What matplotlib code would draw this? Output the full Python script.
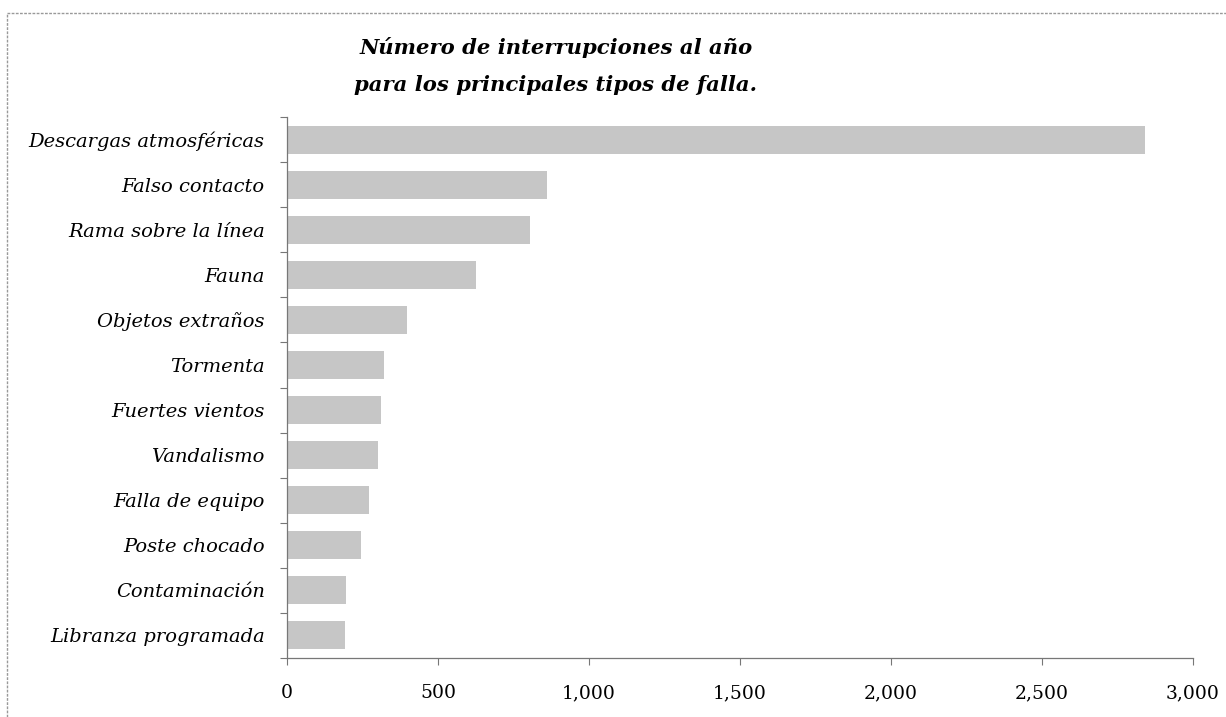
import matplotlib.pyplot as plt
from matplotlib.lines import Line2D
from matplotlib.ticker import FuncFormatter, FixedLocator

# Interrupciones por año según tipo de falla
tipos = [
    "Descargas atmosféricas",
    "Falso contacto",
    "Rama sobre la línea",
    "Fauna",
    "Objetos extraños",
    "Tormenta",
    "Fuertes vientos",
    "Vandalismo",
    "Falla de equipo",
    "Poste chocado",
    "Contaminación",
    "Libranza programada",
]
interrupciones = [2840, 862, 806, 625, 396, 321, 310, 301, 272, 245, 195, 192]
xticks = [0, 500, 1000, 1500, 2000, 2500, 3000]

plt.rcParams["font.family"] = ["DejaVu Serif"]

fig = plt.figure(figsize=(12.26, 7.17), dpi=100)
ax = fig.add_axes([0.2341, 0.0823, 0.739, 0.7545])

pos = list(range(len(tipos)))
ax.barh(pos, interrupciones, height=0.62, color="#c6c6c6", edgecolor="none")

ax.set_xlim(0, 3000)
ax.set_ylim(len(tipos) - 0.5, -0.5)

ax.set_yticks(pos)
ax.set_yticklabels(tipos, fontsize=14, style="italic")
ax.yaxis.set_minor_locator(FixedLocator([p - 0.5 for p in pos] + [len(tipos) - 0.5]))
ax.tick_params(axis="y", which="major", length=0, pad=16)
ax.tick_params(axis="y", which="minor", length=5, width=0.8, color="#777777")

ax.set_xticks(xticks)
ax.xaxis.set_major_formatter(FuncFormatter(lambda v, p: f"{int(v):,}"))
ax.tick_params(axis="x", length=5, width=0.8, color="#777777", labelsize=13.5, pad=14)

for s in ["top", "right"]:
    ax.spines[s].set_visible(False)
for s in ["left", "bottom"]:
    ax.spines[s].set_color("#777777")
    ax.spines[s].set_linewidth(0.9)

# Título en dos líneas
fig.text(556 / 1226, 1 - 48 / 717, "Número de interrupciones al año",
         ha="center", va="center", fontsize=15.2, style="italic", weight="bold")
fig.text(556 / 1226, 1 - 85 / 717, "para los principales tipos de falla.",
         ha="center", va="center", fontsize=15.2, style="italic", weight="bold")

# Marco exterior
fig.add_artist(Line2D([7 / 1226, 1.0], [1 - 13 / 717, 1 - 13 / 717],
                      transform=fig.transFigure, color="#999999", lw=1, ls=(0, (2, 1))))
fig.add_artist(Line2D([7 / 1226, 7 / 1226], [0.0, 1 - 13 / 717],
                      transform=fig.transFigure, color="#999999", lw=1, ls=(0, (2, 1))))

fig.savefig("out.png", dpi=100)
